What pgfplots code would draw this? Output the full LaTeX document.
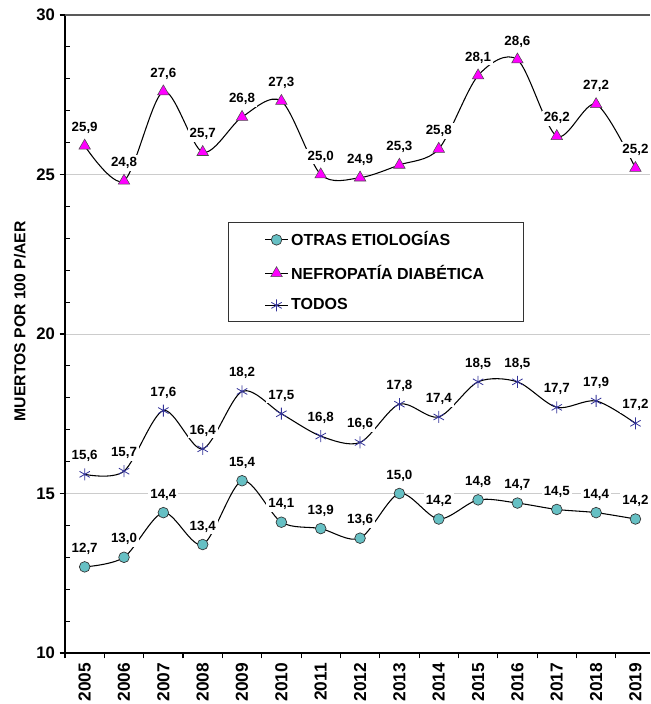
\documentclass[border=0pt]{standalone}
\usepackage{fontspec}
\setmainfont{Liberation Sans}
\usepackage{pgfplots}
\pgfplotsset{compat=1.18}
\definecolor{otras}{RGB}{102,192,196}
\definecolor{nefro}{RGB}{255,0,255}
\definecolor{todos}{RGB}{51,51,153}

\begin{document}
\begin{tikzpicture}
\begin{axis}[
  scale only axis, width=438.75pt, height=478.5pt,
  xmin=2004.5, xmax=2019.37, ymin=10, ymax=30,
  axis x line*=bottom, axis y line*=left,
  axis line style={black, line width=1.1pt, -},
  clip=false,
  /pgf/number format/assume math mode=true,
  ytick={10,15,20,25,30},
  ymajorgrids, grid style={gray!40, line width=0.6pt},
  tick align=outside, major tick length=4pt,
  tick style={black, line width=0.8pt},
  extra y ticks={11,12,13,14,16,17,18,19,21,22,23,24,26,27,28,29},
  extra y tick labels={},
  extra y tick style={grid=none, tick align=inside, major tick length=4pt},
  xtick={2004.5,2005.5,...,2018.5},
  xticklabels={2005,2006,2007,2008,2009,2010,2011,2012,2013,2014,2015,2016,2017,2018,2019},
  x tick label style={xshift=14.75pt, rotate=90, anchor=east, font=\bfseries\fontsize{13}{15}\selectfont},
  y tick label style={font=\bfseries\fontsize{12.5}{14}\selectfont},
  ylabel={MUERTOS POR 100 P/AER},
  ylabel style={at={(axis description cs:-0.077,0.52)}, anchor=center, font=\bfseries\fontsize{11.8}{13}\selectfont},
  legend cell align=left,
  legend style={at={(0.279,0.6755)}, anchor=north west, draw=black!80, line width=0.6pt,
    font=\bfseries\fontsize{12}{14}\selectfont, inner xsep=27pt, inner ysep=5pt, row sep=9pt},
  nodes near coords={\pgfmathprintnumber[fixed, fixed zerofill, precision=1, use comma]{\pgfplotspointmeta}},
  every node near coord/.append style={font=\bfseries\fontsize{10}{12}\selectfont, fill=white, text=black, inner sep=1.5pt, yshift=7.5pt},
]
\addplot[black, line width=0.8pt, smooth, mark=*, mark size=4pt,
  mark options={fill=otras, draw=black!80, line width=0.5pt}]
  coordinates {(2005,12.7) (2006,13.0) (2007,14.4) (2008,13.4) (2009,15.4) (2010,14.1) (2011,13.9) (2012,13.6)
  (2013,15.0) (2014,14.2) (2015,14.8) (2016,14.7) (2017,14.5) (2018,14.4) (2019,14.2)};
\addlegendentry{OTRAS ETIOLOGÍAS}
\addplot[black, line width=0.8pt, smooth, mark=triangle*, mark size=5pt,
  mark options={fill=nefro, draw=black!70, line width=0.4pt}]
  coordinates {(2005,25.9) (2006,24.8) (2007,27.6) (2008,25.7) (2009,26.8) (2010,27.3) (2011,25.0) (2012,24.9)
  (2013,25.3) (2014,25.8) (2015,28.1) (2016,28.6) (2017,26.2) (2018,27.2) (2019,25.2)};
\addlegendentry{NEFROPATÍA DIABÉTICA}
\addplot[black, line width=0.8pt, smooth, mark=asterisk, mark size=4.5pt,
  mark options={draw=todos, line width=0.6pt}]
  coordinates {(2005,15.6) (2006,15.7) (2007,17.6) (2008,16.4) (2009,18.2) (2010,17.5) (2011,16.8) (2012,16.6)
  (2013,17.8) (2014,17.4) (2015,18.5) (2016,18.5) (2017,17.7) (2018,17.9) (2019,17.2)};
\addlegendentry{TODOS}
\draw[black!65, line width=1.2pt] (rel axis cs:0,1) -- (rel axis cs:1,1);
\end{axis}
\pgfresetboundingbox
\path[use as bounding box] ([shift={(-48.75pt,-38.25pt)}]current axis.south west) rectangle ([shift={(0pt,11.25pt)}]current axis.north east);
\end{tikzpicture}
\end{document}
